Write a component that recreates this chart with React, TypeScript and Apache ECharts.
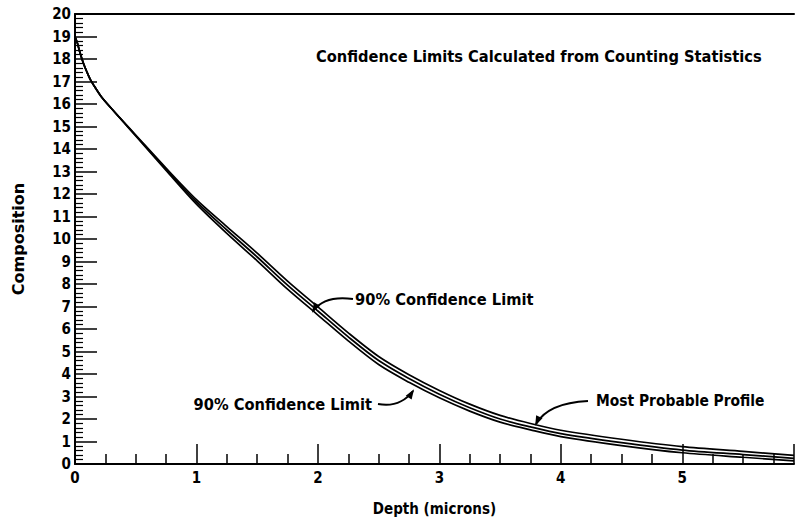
import React, { useEffect, useRef } from "react";
import * as echarts from "echarts";

const depth = [0, 0.02, 0.04, 0.07, 0.1, 0.13, 0.17, 0.22, 0.3, 0.4, 0.5, 0.75, 1.0, 1.25, 1.5, 1.75, 2.0, 2.25, 2.5, 2.75, 3.0, 3.25, 3.5, 3.75, 4.0, 4.5, 5.0, 5.5, 5.92];
const mostProbable = [19.0, 18.7, 18.3, 17.8, 17.4, 17.05, 16.7, 16.3, 15.8, 15.2, 14.6, 13.1, 11.65, 10.4, 9.2, 7.95, 6.8, 5.65, 4.6, 3.8, 3.1, 2.5, 2.0, 1.65, 1.35, 0.95, 0.62, 0.42, 0.25];
const upperLimit = [19.0, 18.7, 18.3, 17.8, 17.4, 17.05, 16.7, 16.3, 15.8, 15.21, 14.62, 13.15, 11.75, 10.55, 9.37, 8.13, 6.98, 5.83, 4.78, 3.97, 3.27, 2.66, 2.16, 1.8, 1.5, 1.1, 0.77, 0.56, 0.38];
const lowerLimit = [19.0, 18.7, 18.3, 17.8, 17.4, 17.05, 16.7, 16.3, 15.8, 15.19, 14.58, 13.05, 11.55, 10.25, 9.03, 7.77, 6.62, 5.47, 4.42, 3.63, 2.94, 2.35, 1.86, 1.52, 1.22, 0.82, 0.5, 0.3, 0.14];

const title = "Confidence Limits Calculated from Counting Statistics";
const upperLabel = "90% Confidence Limit";
const lowerLabel = "90% Confidence Limit";
const centerLabel = "Most Probable Profile";
const xName = "Depth (microns)";
const yName = "Composition";

const FONT = "'DejaVu Sans Condensed', 'DejaVu Sans', sans-serif";

function pairs(ys: number[]) {
  return depth.map((d, i) => [d, ys[i]]);
}

export default function App() {
  const ref = useRef<HTMLDivElement>(null);
  useEffect(() => {
    if (!ref.current) return;
    const chart = echarts.init(ref.current, undefined, { renderer: "svg" });
    const lineStyle = { color: "#000", width: 1.7 };
    const textStyle = (x: number, y: number, t: string, align = "left", size = 16.3) => ({
      type: "text",
      x,
      y,
      style: {
        text: t,
        fill: "#000",
        font: `bold ${size}px ${FONT}`,
        textAlign: align,
        textVerticalAlign: "middle",
      },
    });
    const arrow = (x1: number, y1: number, cx: number, cy: number, x2: number, y2: number, ang: number) => {
      const L = 8, W = 3.5;
      const ux = Math.cos(ang), uy = Math.sin(ang);
      return [
        {
          type: "bezierCurve",
          shape: { x1, y1, x2, y2, cpx1: cx, cpy1: cy },
          style: { stroke: "#000", lineWidth: 2, fill: "none" },
        },
        {
          type: "polygon",
          shape: {
            points: [
              [x2 + ux * 2, y2 + uy * 2],
              [x2 - ux * L - uy * W, y2 - uy * L + ux * W],
              [x2 - ux * L + uy * W, y2 - uy * L - ux * W],
            ],
          },
          style: { fill: "#000" },
        },
      ];
    };
    chart.setOption({
      animation: false,
      grid: { left: 75, right: 0, top: 14, bottom: 65, containLabel: false },
      xAxis: [
        {
          type: "value",
          min: 0,
          max: 5.92,
          interval: 1,
          name: xName,
          nameLocation: "middle",
          nameGap: 37,
          nameTextStyle: { color: "#000", fontSize: 15, fontWeight: "bold", fontFamily: FONT },
          axisLine: { lineStyle: { color: "#000", width: 2 } },
          axisTick: { inside: true, length: 20, lineStyle: { color: "#000", width: 1.5 } },
          minorTick: { show: true, splitNumber: 4, length: 10, lineStyle: { color: "#000", width: 1.5 } },
          axisLabel: {
            color: "#000",
            fontSize: 15,
            fontWeight: "bold",
            fontFamily: FONT,
            margin: 6,
            formatter: (v: number) => (Number.isInteger(v) ? String(v) : ""),
          },
          splitLine: { show: false },
        },
        {
          type: "value",
          position: "top",
          min: 0,
          max: 5.92,
          axisLine: { show: true, lineStyle: { color: "#000", width: 2 } },
          axisTick: { show: false },
          axisLabel: { show: false },
          splitLine: { show: false },
        },
      ],
      yAxis: {
        type: "value",
        min: 0,
        max: 20,
        interval: 1,
        name: yName,
        nameLocation: "middle",
        nameGap: 49,
        nameTextStyle: { color: "#000", fontSize: 16, fontWeight: "bold", fontFamily: "'DejaVu Sans', sans-serif" },
        axisLine: { show: true, lineStyle: { color: "#000", width: 2 } },
        axisTick: { inside: true, length: 22, lineStyle: { color: "#000", width: 1.5 } },
        minorTick: { show: true, splitNumber: 5, length: 8, lineStyle: { color: "#000", width: 1.2 } },
        axisLabel: { color: "#000", fontSize: 15, fontWeight: "bold", fontFamily: FONT, margin: 4 },
        splitLine: { show: false },
      },
      series: [
        { type: "line", name: "upper", data: pairs(upperLimit), smooth: 0.3, showSymbol: false, lineStyle },
        { type: "line", name: "center", data: pairs(mostProbable), smooth: 0.3, showSymbol: false, lineStyle },
        { type: "line", name: "lower", data: pairs(lowerLimit), smooth: 0.3, showSymbol: false, lineStyle },
      ],
      graphic: [
        textStyle(316, 56, title),
        textStyle(355, 299, upperLabel),
        textStyle(372, 404, lowerLabel, "right"),
        textStyle(596, 401, centerLabel, "left", 15.4),
        ...arrow(353, 299, 325, 295, 313, 311, 2.1),
        ...arrow(378, 404, 400, 408, 413, 391, -1.0),
        ...arrow(588, 401, 548, 403, 536, 424, 2.0),
      ],
    });
    return () => chart.dispose();
  }, []);
  return <div ref={ref} style={{ width: 797, height: 529, position: "absolute", left: 0, top: 0 }} />;
}
